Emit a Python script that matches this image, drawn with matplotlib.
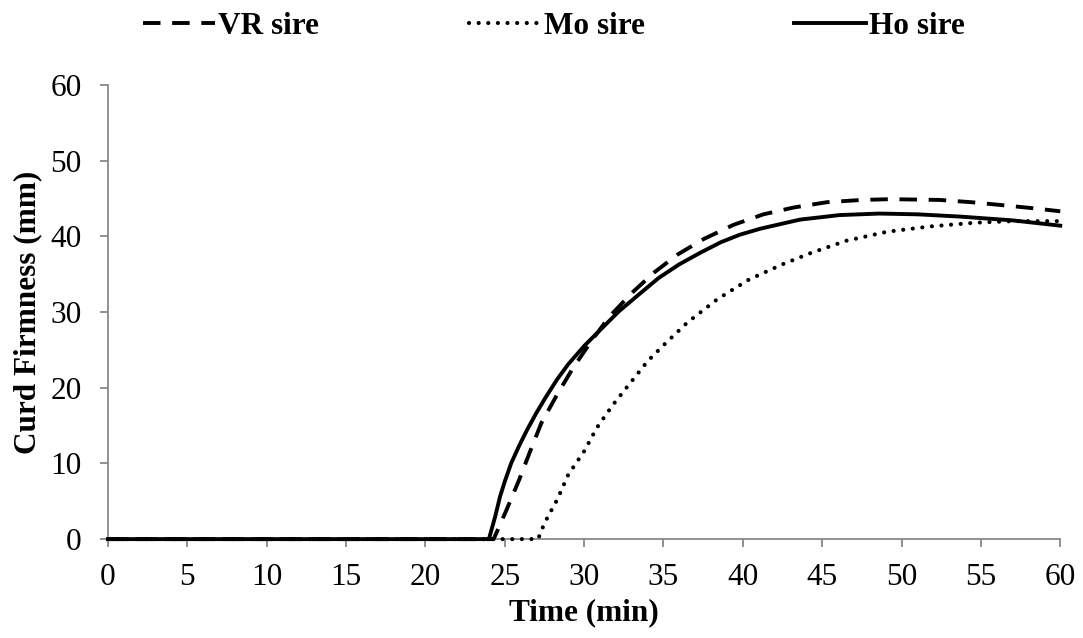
import matplotlib
matplotlib.use("Agg")
import matplotlib.pyplot as plt

plt.rcParams["font.family"] = ["Liberation Serif", "DejaVu Serif"]

# Curd firmness curves (time in min, firmness in mm)
vr_time = [0, 24.3, 25.1, 25.9, 26.6, 27.3, 28.3, 29.3, 30.5, 31.6, 33.0, 34.4, 35.9,
           37.5, 39.4, 41.3, 43.2, 45.3, 47.5, 49.3, 52.4, 54.4, 56.4, 58.3, 60]
vr_firm = [0, 0, 3.8, 7.8, 11.6, 15.3, 19.1, 22.6, 26.3, 29.4, 32.5, 35.2, 37.6,
           39.6, 41.5, 42.9, 43.8, 44.5, 44.8, 44.9, 44.8, 44.5, 44.1, 43.7, 43.3]

mo_time = [0, 27.1, 27.5, 28.3, 29.0, 30.0, 30.8, 31.8, 32.9, 34.0, 35.0, 36.5, 38.4,
           40.4, 42.5, 44.3, 46.5, 49.1, 51.8, 54.7, 57.0, 60]
mo_firm = [0, 0, 2.1, 5.2, 8.5, 11.6, 14.7, 17.7, 20.6, 23.5, 25.6, 28.6, 31.7,
           34.3, 36.3, 37.8, 39.4, 40.6, 41.3, 41.8, 42.0, 42.0]

ho_time = [0, 24.0, 24.4, 24.7, 25.0, 25.4, 25.9, 26.4, 27.0, 27.6, 28.3, 29.0, 30.0,
           31.0, 32.2, 33.5, 34.7, 36.0, 37.3, 38.6, 39.8, 41.1, 43.6,
           46.1, 48.6, 51.0, 53.7, 57.0, 60]
ho_firm = [0, 0, 3.0, 5.6, 7.6, 10.0, 12.3, 14.4, 16.7, 18.8, 21.1, 23.1, 25.5,
           27.6, 30.1, 32.4, 34.5, 36.3, 37.8, 39.2, 40.2, 41.0, 42.2,
           42.8, 43.0, 42.9, 42.6, 42.1, 41.4]

x_ticks = list(range(0, 61, 5))
y_ticks = list(range(0, 61, 10))

fig = plt.figure(figsize=(10.83, 6.38), dpi=100)
ax = fig.add_axes([0.0997, 0.155, 0.8793, 0.712])

ax.plot(vr_time, vr_firm, color="black", lw=2.8, linestyle=(0, (4.5, 3)),
        clip_on=False, zorder=4, label="VR sire")
ax.plot(mo_time, mo_firm, color="black", lw=3.0, linestyle=(0, (0.01, 2.3)),
        dash_capstyle="round", clip_on=False, zorder=4, label="Mo sire")
ax.plot(ho_time, ho_firm, color="black", lw=2.8, clip_on=False, zorder=4,
        solid_joinstyle="round", label="Ho sire")

ax.set_xlim(0, 60)
ax.set_ylim(0, 60)
ax.set_xticks(x_ticks)
ax.set_yticks(y_ticks)

for side in ["top", "right"]:
    ax.spines[side].set_visible(False)
for side in ["left", "bottom"]:
    ax.spines[side].set_color("#888888")
    ax.spines[side].set_linewidth(1.3)

ax.tick_params(axis="both", colors="#888888", width=1.3, length=6, labelsize=22.5,
               labelcolor="black")
ax.tick_params(axis="x", pad=11)
ax.tick_params(axis="y", pad=13)

ax.set_xlabel("Time (min)", fontsize=22.5, fontweight="bold", labelpad=5)
ax.set_ylabel("Curd Firmness (mm)", fontsize=22.5, fontweight="bold", labelpad=6)

fig.legend(loc="upper center", bbox_to_anchor=(0.5115, 1.025), ncol=3, frameon=False,
           prop={"weight": "bold", "size": 22.5}, handlelength=2.3,
           handletextpad=0.1, columnspacing=4.8)

fig.savefig("out.png", dpi=100)
